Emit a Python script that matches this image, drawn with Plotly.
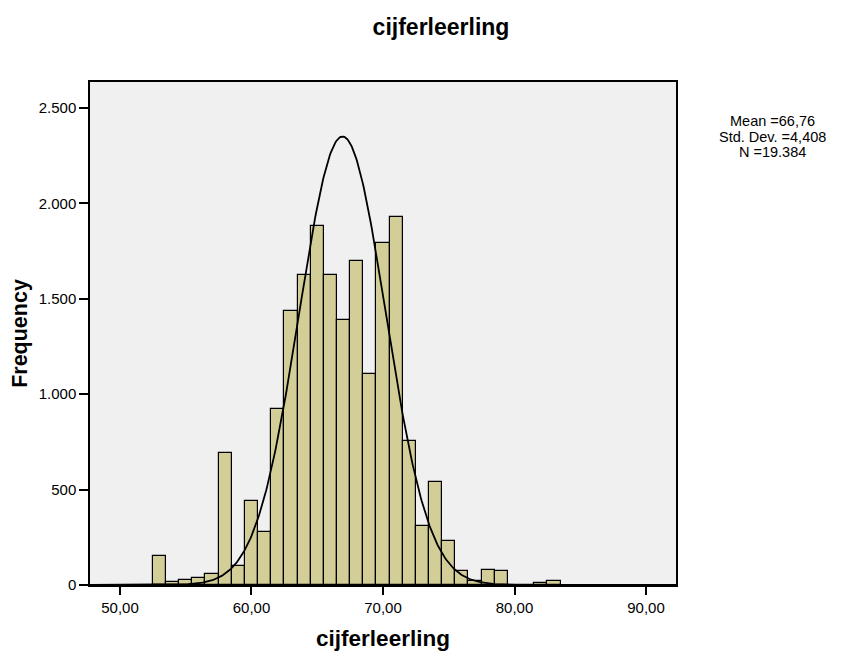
import numpy as np
import plotly.graph_objects as go

# ---- data ----
bin_centers = [53, 54, 55, 56, 57, 58, 59, 60, 61, 62, 63, 64, 65, 66, 67, 68,
               69, 70, 71, 72, 73, 74, 75, 76, 77, 78, 79, 80, 81, 82, 83]
frequencies = [152, 16, 25, 35, 56, 692, 101, 440, 277, 920, 1436, 1622, 1884, 1622, 1390, 1696,
               1105, 1790, 1926, 753, 311, 539, 231, 71, 20, 80, 72, 0, 0, 12, 19]
bin_width = 1.0

# normal curve drawn by the reference (as seen in the picture)
curve_mean = 66.92
curve_sd = 3.29
curve_n = 19384

stats_lines = ["Mean =66,76", "Std. Dev. =4,408", "N =19.384"]

x_tickvals = [50, 60, 70, 80, 90]
x_ticktext = ["50,00", "60,00", "70,00", "80,00", "90,00"]
y_tickvals = [0, 500, 1000, 1500, 2000, 2500]
y_ticktext = ["0", "500", "1.000", "1.500", "2.000", "2.500"]

chart_title = "cijferleerling"
x_title = "cijferleerling"
y_title = "Frequency"

# ---- figure ----
x_range = [47.72, 92.28]
y_range = [0, 2636]

curve_x = np.linspace(x_range[0], x_range[1], 600)
curve_y = curve_n * bin_width / (curve_sd * np.sqrt(2 * np.pi)) * np.exp(-0.5 * ((curve_x - curve_mean) / curve_sd) ** 2)

fig = go.Figure()
fig.add_trace(go.Bar(
    x=bin_centers, y=frequencies, width=bin_width,
    marker=dict(color="#d3ce98", line=dict(color="black", width=1.2)),
    hoverinfo="x+y", showlegend=False,
))
fig.add_trace(go.Scatter(
    x=curve_x, y=curve_y, mode="lines",
    line=dict(color="black", width=1.8), showlegend=False, hoverinfo="skip",
))

font_family = "Liberation Sans, Arial, sans-serif"
L, R, T, B = 90, 174, 82, 75
plot_w = 850 - L - R
plot_h = 660 - T - B

def px_x(px):
    return (px - L) / plot_w

def px_y(py):
    return 1 - (py - T) / plot_h

stats_y = [121, 136.5, 152]
annotations = [
    dict(text=line, x=px_x(772), y=px_y(yy), xref="paper", yref="paper",
         xanchor="center", yanchor="middle", showarrow=False,
         font=dict(size=14.5, family=font_family, color="black"))
    for line, yy in zip(stats_lines, stats_y)
]

fig.update_layout(
    width=850, height=660,
    margin=dict(l=L, r=R, t=T, b=B),
    paper_bgcolor="white",
    plot_bgcolor="#f0f0f0",
    bargap=0,
    font=dict(family=font_family, color="black", size=15),
    title=dict(text="<b>" + chart_title + "</b>", x=441 / 850, xref="container", xanchor="center",
               y=1 - 27 / 660, yref="container", yanchor="middle",
               font=dict(size=23, family=font_family, color="black")),
    xaxis=dict(
        range=x_range, tickvals=x_tickvals, ticktext=x_ticktext,
        showgrid=False, zeroline=False, showline=True, linecolor="black", linewidth=1.5,
        mirror=True, ticks="outside", ticklen=8, tickwidth=1.5, tickcolor="black",
        tickfont=dict(size=15),
        title=dict(text="<b>" + x_title + "</b>", font=dict(size=22.5), standoff=15),
    ),
    yaxis=dict(
        range=y_range, tickvals=y_tickvals, ticktext=y_ticktext,
        showgrid=False, zeroline=False, showline=True, linecolor="black", linewidth=1.5,
        mirror=True, ticks="outside", ticklen=9, tickwidth=1.5, tickcolor="black",
        tickfont=dict(size=15),
        title=dict(text="<b>" + y_title + "</b>", font=dict(size=21.5), standoff=5),
    ),
    annotations=annotations,
)

fig.write_html("out.html", config={"displayModeBar": False},
               post_script="document.body.style.margin='0px';")
